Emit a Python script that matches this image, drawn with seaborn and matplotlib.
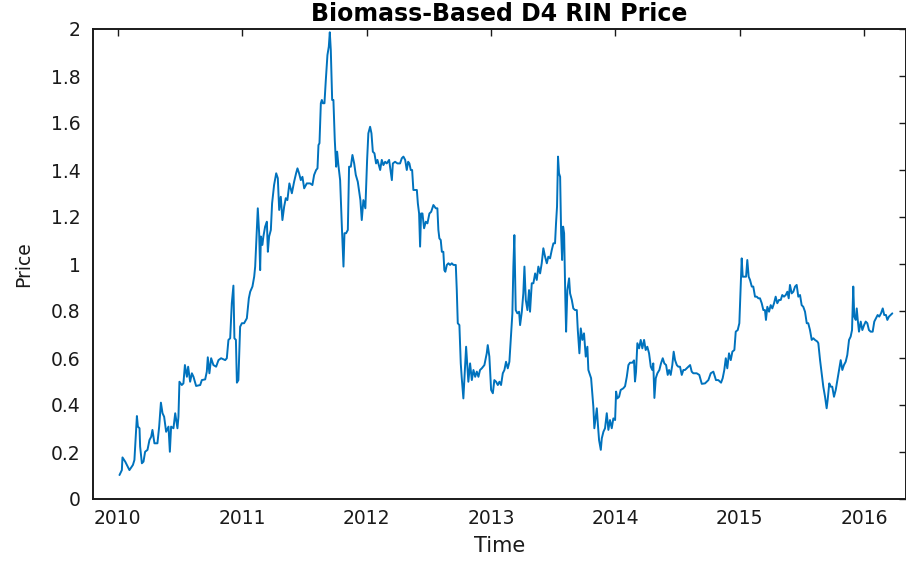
import matplotlib
matplotlib.use('Agg')
import numpy as np
import pandas as pd
import matplotlib.pyplot as plt
import seaborn as sns

# ---------------------------------------------------------------
# Data: weekly Biomass-Based D4 RIN price (decimal year, $/RIN)
# ---------------------------------------------------------------
t_2010 = [2010.013, 2010.032, 2010.037, 2010.059, 2010.093, 2010.121, 2010.133, 2010.153,
          2010.161, 2010.174, 2010.179, 2010.193, 2010.206, 2010.219, 2010.238, 2010.254,
          2010.268, 2010.278, 2010.294, 2010.318, 2010.332, 2010.346, 2010.359, 2010.372,
          2010.388, 2010.407, 2010.418, 2010.428, 2010.447, 2010.461, 2010.479, 2010.487,
          2010.495, 2010.514, 2010.527, 2010.539, 2010.555, 2010.565, 2010.581, 2010.595,
          2010.608, 2010.629, 2010.662, 2010.675, 2010.702, 2010.715, 2010.723, 2010.736,
          2010.750, 2010.768, 2010.790, 2010.809, 2010.830, 2010.863, 2010.876, 2010.889,
          2010.903, 2010.916, 2010.929, 2010.937, 2010.949, 2010.957, 2010.969, 2010.983,
          2010.997]
p_2010 = [0.102, 0.123, 0.177, 0.159, 0.123, 0.145, 0.166, 0.353,
          0.308, 0.301, 0.223, 0.152, 0.159, 0.201, 0.209, 0.251,
          0.265, 0.294, 0.237, 0.237, 0.308, 0.410, 0.365, 0.350,
          0.286, 0.308, 0.201, 0.308, 0.301, 0.365, 0.301, 0.350,
          0.499, 0.485, 0.492, 0.570, 0.520, 0.563, 0.499, 0.535,
          0.520, 0.481, 0.485, 0.506, 0.509, 0.542, 0.603, 0.535,
          0.599, 0.570, 0.563, 0.591, 0.599, 0.591, 0.599, 0.677,
          0.684, 0.833, 0.908, 0.684, 0.677, 0.495, 0.506, 0.733,
          0.748]

t_2011 = [2011.015, 2011.037, 2011.053, 2011.064, 2011.082, 2011.096, 2011.104, 2011.117,
          2011.125, 2011.136, 2011.144, 2011.150, 2011.162, 2011.170, 2011.184, 2011.198,
          2011.206, 2011.216, 2011.230, 2011.240, 2011.256, 2011.273, 2011.286, 2011.297,
          2011.310, 2011.323, 2011.337, 2011.350, 2011.363, 2011.379, 2011.399, 2011.417,
          2011.433, 2011.444, 2011.457, 2011.471, 2011.484, 2011.498, 2011.519, 2011.546,
          2011.564, 2011.578, 2011.594, 2011.605, 2011.613, 2011.621, 2011.632, 2011.640,
          2011.648, 2011.661, 2011.672, 2011.685, 2011.696, 2011.704, 2011.712, 2011.723,
          2011.733, 2011.744, 2011.755, 2011.763, 2011.773, 2011.787, 2011.801, 2011.814,
          2011.822, 2011.835, 2011.849, 2011.859, 2011.873, 2011.886, 2011.900, 2011.913,
          2011.929, 2011.940, 2011.950, 2011.961, 2011.974, 2011.990]
p_2011 = [0.748, 0.769, 0.854, 0.882, 0.904, 0.946, 0.989, 1.145,
          1.237, 1.131, 0.974, 1.117, 1.081, 1.117, 1.159, 1.180,
          1.052, 1.117, 1.145, 1.258, 1.336, 1.386, 1.365, 1.230,
          1.286, 1.187, 1.244, 1.280, 1.272, 1.343, 1.301, 1.350,
          1.386, 1.407, 1.386, 1.357, 1.371, 1.322, 1.343, 1.343,
          1.336, 1.379, 1.400, 1.407, 1.506, 1.514, 1.684, 1.698,
          1.684, 1.684, 1.783, 1.889, 1.925, 1.986, 1.911, 1.698,
          1.698, 1.528, 1.414, 1.478, 1.421, 1.357, 1.159, 0.989,
          1.131, 1.131, 1.145, 1.414, 1.414, 1.464, 1.428, 1.379,
          1.350, 1.308, 1.272, 1.187, 1.272, 1.237]

t_2012 = [2012.004, 2012.014, 2012.028, 2012.039, 2012.050, 2012.063, 2012.076, 2012.087,
          2012.098, 2012.109, 2012.122, 2012.135, 2012.149, 2012.162, 2012.181, 2012.195,
          2012.203, 2012.211, 2012.229, 2012.248, 2012.269, 2012.283, 2012.296, 2012.310,
          2012.323, 2012.334, 2012.344, 2012.355, 2012.366, 2012.376, 2012.390, 2012.404,
          2012.412, 2012.422, 2012.430, 2012.438, 2012.449, 2012.462, 2012.476, 2012.489,
          2012.505, 2012.519, 2012.537, 2012.556, 2012.569, 2012.577, 2012.585, 2012.596,
          2012.605, 2012.617, 2012.625, 2012.633, 2012.645, 2012.658, 2012.671, 2012.685,
          2012.698, 2012.717, 2012.725, 2012.733, 2012.746, 2012.757, 2012.765, 2012.778,
          2012.800, 2012.818, 2012.832, 2012.846, 2012.859, 2012.873, 2012.886, 2012.899,
          2012.912, 2012.926, 2012.947, 2012.966, 2012.974, 2012.987]
p_2012 = [1.443, 1.556, 1.584, 1.556, 1.478, 1.471, 1.428, 1.443,
          1.421, 1.400, 1.443, 1.421, 1.435, 1.428, 1.443, 1.386,
          1.357, 1.428, 1.435, 1.428, 1.428, 1.450, 1.457, 1.443,
          1.400, 1.435, 1.428, 1.400, 1.400, 1.315, 1.315, 1.315,
          1.258, 1.215, 1.074, 1.215, 1.215, 1.152, 1.180, 1.173,
          1.215, 1.222, 1.251, 1.237, 1.237, 1.145, 1.109, 1.102,
          1.052, 1.052, 0.974, 0.967, 0.996, 1.003, 0.996, 1.003,
          0.996, 0.996, 0.889, 0.748, 0.740, 0.577, 0.515, 0.428,
          0.648, 0.499, 0.577, 0.506, 0.549, 0.520, 0.542, 0.520,
          0.549, 0.556, 0.570, 0.620, 0.655, 0.606]

t_2013 = [2013.001, 2013.015, 2013.027, 2013.041, 2013.055, 2013.068, 2013.081, 2013.095,
          2013.108, 2013.121, 2013.135, 2013.148, 2013.162, 2013.172, 2013.180, 2013.188,
          2013.199, 2013.212, 2013.226, 2013.234, 2013.248, 2013.260, 2013.269, 2013.280,
          2013.293, 2013.306, 2013.314, 2013.328, 2013.341, 2013.355, 2013.368, 2013.381,
          2013.395, 2013.408, 2013.421, 2013.435, 2013.449, 2013.461, 2013.475, 2013.489,
          2013.502, 2013.515, 2013.523, 2013.531, 2013.539, 2013.547, 2013.556, 2013.564,
          2013.572, 2013.580, 2013.588, 2013.598, 2013.604, 2013.614, 2013.628, 2013.636,
          2013.650, 2013.662, 2013.676, 2013.690, 2013.698, 2013.711, 2013.722, 2013.735,
          2013.748, 2013.762, 2013.775, 2013.783, 2013.805, 2013.823, 2013.831, 2013.851,
          2013.859, 2013.869, 2013.883, 2013.891, 2013.904, 2013.917, 2013.931, 2013.944,
          2013.957, 2013.971, 2013.984, 2013.998]
p_2013 = [0.464, 0.450, 0.506, 0.499, 0.485, 0.499, 0.485, 0.535,
          0.549, 0.584, 0.556, 0.584, 0.700, 0.790, 0.989, 1.123,
          0.804, 0.790, 0.797, 0.740, 0.797, 0.875, 0.989, 0.847,
          0.804, 0.889, 0.797, 0.918, 0.918, 0.960, 0.932, 0.989,
          0.960, 1.003, 1.067, 1.031, 1.003, 1.031, 1.024, 1.060,
          1.088, 1.088, 1.173, 1.244, 1.457, 1.386, 1.371, 1.131,
          1.017, 1.159, 1.131, 0.847, 0.712, 0.889, 0.939, 0.875,
          0.847, 0.811, 0.804, 0.804, 0.719, 0.620, 0.726, 0.677,
          0.705, 0.606, 0.648, 0.549, 0.514, 0.393, 0.301, 0.386,
          0.322, 0.251, 0.209, 0.258, 0.286, 0.301, 0.365, 0.294,
          0.336, 0.301, 0.343, 0.336]

t_2014 = [2014.006, 2014.016, 2014.030, 2014.043, 2014.064, 2014.078, 2014.092, 2014.105,
          2014.118, 2014.137, 2014.150, 2014.158, 2014.166, 2014.177, 2014.191, 2014.204,
          2014.217, 2014.231, 2014.244, 2014.257, 2014.271, 2014.285, 2014.297, 2014.305,
          2014.314, 2014.325, 2014.338, 2014.354, 2014.367, 2014.381, 2014.394, 2014.408,
          2014.421, 2014.432, 2014.445, 2014.458, 2014.469, 2014.480, 2014.494, 2014.506,
          2014.520, 2014.534, 2014.547, 2014.560, 2014.574, 2014.587, 2014.601, 2014.614,
          2014.627, 2014.654, 2014.675, 2014.695, 2014.721, 2014.748, 2014.767, 2014.788,
          2014.809, 2014.828, 2014.850, 2014.863, 2014.876, 2014.888, 2014.900, 2014.914,
          2014.928, 2014.941, 2014.957, 2014.968, 2014.984, 2014.997]
p_2014 = [0.457, 0.428, 0.435, 0.464, 0.471, 0.480, 0.520, 0.570,
          0.580, 0.580, 0.590, 0.500, 0.540, 0.663, 0.641, 0.677,
          0.641, 0.677, 0.634, 0.648, 0.620, 0.563, 0.549, 0.577,
          0.430, 0.514, 0.535, 0.549, 0.577, 0.599, 0.577, 0.570,
          0.528, 0.549, 0.528, 0.570, 0.627, 0.591, 0.570, 0.563,
          0.563, 0.528, 0.549, 0.549, 0.556, 0.563, 0.570, 0.542,
          0.535, 0.535, 0.528, 0.490, 0.492, 0.506, 0.535, 0.542,
          0.506, 0.506, 0.495, 0.514, 0.549, 0.599, 0.556, 0.620,
          0.591, 0.627, 0.634, 0.712, 0.719, 0.748]

t_2015 = [2015.008, 2015.016, 2015.024, 2015.037, 2015.051, 2015.061, 2015.072, 2015.083,
          2015.097, 2015.109, 2015.123, 2015.137, 2015.150, 2015.163, 2015.177, 2015.190,
          2015.203, 2015.211, 2015.222, 2015.236, 2015.249, 2015.262, 2015.276, 2015.289,
          2015.302, 2015.316, 2015.330, 2015.342, 2015.356, 2015.370, 2015.383, 2015.394,
          2015.404, 2015.418, 2015.431, 2015.445, 2015.458, 2015.471, 2015.485, 2015.498,
          2015.511, 2015.525, 2015.539, 2015.551, 2015.565, 2015.579, 2015.592, 2015.605,
          2015.624, 2015.632, 2015.646, 2015.659, 2015.672, 2015.686, 2015.699, 2015.707,
          2015.720, 2015.732, 2015.744, 2015.758, 2015.772, 2015.785, 2015.798, 2015.812,
          2015.825, 2015.838, 2015.852, 2015.865, 2015.879, 2015.892, 2015.903, 2015.913,
          2015.921, 2015.933, 2015.941, 2015.949, 2015.959, 2015.973, 2015.986]
p_2015 = [0.904, 1.024, 0.946, 0.946, 0.946, 1.017, 0.946, 0.932,
          0.904, 0.904, 0.861, 0.861, 0.854, 0.854, 0.833, 0.804,
          0.804, 0.762, 0.818, 0.797, 0.825, 0.811, 0.833, 0.861,
          0.833, 0.847, 0.847, 0.868, 0.861, 0.868, 0.882, 0.854,
          0.911, 0.875, 0.882, 0.904, 0.911, 0.861, 0.868, 0.825,
          0.818, 0.797, 0.748, 0.748, 0.719, 0.677, 0.684, 0.677,
          0.670, 0.663, 0.591, 0.535, 0.478, 0.435, 0.386, 0.421,
          0.492, 0.478, 0.478, 0.435, 0.464, 0.506, 0.549, 0.591,
          0.549, 0.570, 0.584, 0.613, 0.677, 0.691, 0.719, 0.904,
          0.776, 0.762, 0.811, 0.762, 0.712, 0.755, 0.719]

t_2016 = [2016.000, 2016.013, 2016.026, 2016.039, 2016.053, 2016.069, 2016.082, 2016.096,
          2016.109, 2016.122, 2016.136, 2016.150, 2016.162, 2016.176, 2016.187, 2016.200,
          2016.214, 2016.227]
p_2016 = [0.740, 0.755, 0.748, 0.719, 0.712, 0.712, 0.755, 0.769,
          0.783, 0.776, 0.790, 0.811, 0.783, 0.783, 0.762, 0.776,
          0.783, 0.790]

year_ticks = [2010, 2011, 2012, 2013, 2014, 2015, 2016]
year_labels = ['2010', '2011', '2012', '2013', '2014', '2015', '2016']
price_ticks = [0, 0.2, 0.4, 0.6, 0.8, 1.0, 1.2, 1.4, 1.6, 1.8, 2.0]
price_labels = ['0', '0.2', '0.4', '0.6', '0.8', '1', '1.2', '1.4', '1.6', '1.8', '2']

df = pd.DataFrame({
    'Time': t_2010 + t_2011 + t_2012 + t_2013 + t_2014 + t_2015 + t_2016,
    'Price': p_2010 + p_2011 + p_2012 + p_2013 + p_2014 + p_2015 + p_2016,
})

# ---------------------------------------------------------------
# Plot (MATLAB-like look)
# ---------------------------------------------------------------
sns.set_style('white')
plt.rcParams['font.family'] = ['DejaVu Sans']

fig = plt.figure(figsize=(9.06, 5.61), dpi=100)
ax = fig.add_axes([93 / 906, 1 - 499 / 561, 813 / 906, 470 / 561])

sns.lineplot(data=df, x='Time', y='Price', color='#0072BD', linewidth=1.4,
             estimator=None, sort=False, ax=ax)

ax.set_xlim(2009.80, 2016.337)
ax.set_ylim(0, 2)
ax.set_xticks(year_ticks)
ax.set_xticklabels(year_labels)
ax.set_yticks(price_ticks)
ax.set_yticklabels(price_labels)

ax.tick_params(axis='both', direction='in', length=5, width=1, top=True, right=True,
               color='#1a1a1a', labelcolor='#1a1a1a', labelsize=13.5)
ax.tick_params(axis='x', pad=7)
ax.tick_params(axis='y', pad=9)
for side in ['left', 'right', 'top', 'bottom']:
    ax.spines[side].set_visible(True)
    ax.spines[side].set_linewidth(1.4)
    ax.spines[side].set_color('#1a1a1a')

ax.set_title('Biomass-Based D4 RIN Price', fontsize=17, fontweight='bold',
             color='black', pad=6)
ax.set_xlabel('Time', fontsize=15, color='#1a1a1a', labelpad=6)
ax.set_ylabel('Price', fontsize=13.5, color='#1a1a1a', labelpad=13)
ax.grid(False)

fig.savefig('out.png', dpi=100)
plt.close(fig)
